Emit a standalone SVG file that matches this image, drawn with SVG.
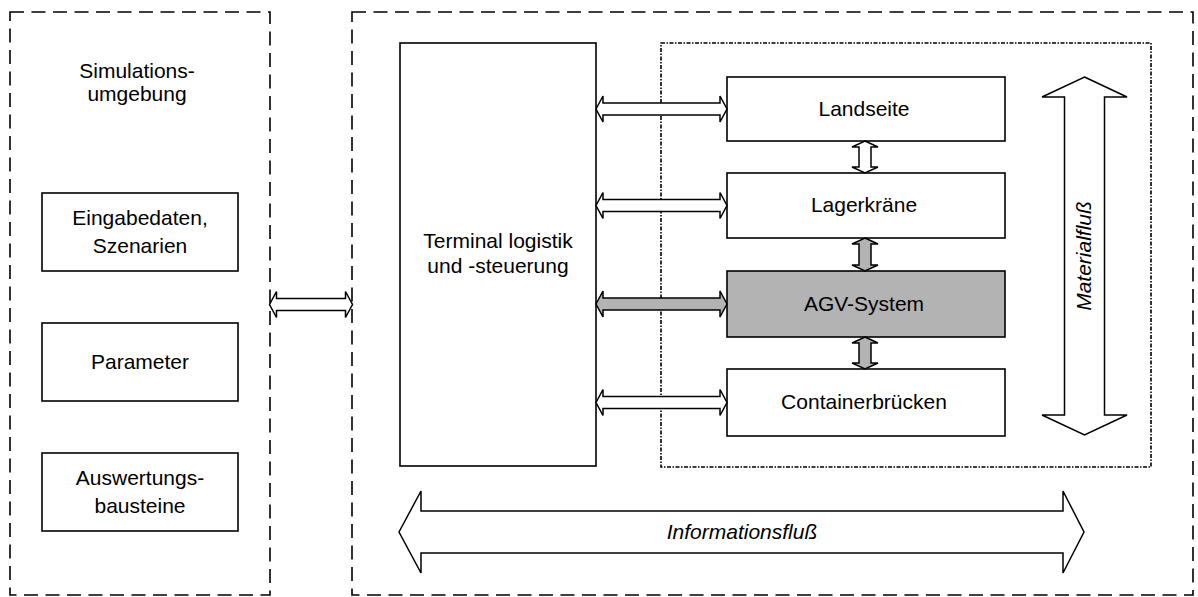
<svg xmlns="http://www.w3.org/2000/svg" width="1198" height="597" viewBox="0 0 1198 597">
<style>
.dash{fill:none;stroke:#000;stroke-width:1.6;stroke-dasharray:14 7.5}
.dot{fill:none;stroke:#000;stroke-width:1.6;stroke-dasharray:4 1.5 1.5 1.5}
.box{fill:#fff;stroke:#000;stroke-width:1.6}
.gbox{fill:#b3b3b3;stroke:#000;stroke-width:1.6}
.arr{fill:#fff;stroke:#000;stroke-width:1.5;stroke-linejoin:miter}
.garr{fill:#b3b3b3;stroke:#000;stroke-width:1.5;stroke-linejoin:miter}
text{font-family:"Liberation Sans",Arial,sans-serif;font-size:21px;fill:#000;text-anchor:middle}
.it{font-style:italic}
</style>
<rect width="1198" height="597" fill="#fff"/>
<g id="simulationsumgebung">
<rect class="dash" x="10" y="12" width="260" height="583"/>
<text x="137" y="78">Simulations-</text>
<text x="137" y="101">umgebung</text>
</g>
<g id="terminal-system">
<rect class="dash" x="352" y="12" width="841" height="583"/>
</g>
<g id="subsysteme">
<rect class="dot" x="661" y="43" width="490" height="424"/>
</g>
<g id="eingabedaten">
<rect class="box" x="42" y="193" width="196" height="78"/>
<text x="140" y="225">Eingabedaten,</text>
<text x="140" y="253">Szenarien</text>
</g>
<g id="parameter">
<rect class="box" x="42" y="323" width="196" height="78"/>
<text x="140" y="369">Parameter</text>
</g>
<g id="auswertung">
<rect class="box" x="42" y="453" width="196" height="78"/>
<text x="140" y="485">Auswertungs-</text>
<text x="140" y="513">bausteine</text>
</g>
<g id="terminal">
<rect class="box" x="400" y="43" width="196" height="423"/>
<text x="498" y="248">Terminal logistik</text>
<text x="498" y="273">und -steuerung</text>
</g>
<g id="landseite">
<rect class="box" x="727" y="77" width="278" height="64"/>
<text x="864" y="116">Landseite</text>
</g>
<g id="lagerkraene">
<rect class="box" x="727" y="173" width="278" height="65"/>
<text x="864" y="212">Lagerkräne</text>
</g>
<g id="agv">
<rect class="gbox" x="727" y="271" width="278" height="66"/>
<text x="864" y="311">AGV-System</text>
</g>
<g id="containerbruecken">
<rect class="box" x="727" y="369" width="278" height="67"/>
<text x="864" y="409">Containerbrücken</text>
</g>
<g id="connectors">
<polygon class="arr" points="269.5,304.5 276.5,291.5 276.5,298.5 345.5,298.5 345.5,291.5 352.5,304.5 345.5,317.5 345.5,310.5 276.5,310.5 276.5,317.5"/>
<polygon class="arr" points="596,109 603,96 603,103 720,103 720,96 727,109 720,122 720,115 603,115 603,122"/>
<polygon class="arr" points="596,205.5 603,192.5 603,199.5 720,199.5 720,192.5 727,205.5 720,218.5 720,211.5 603,211.5 603,218.5"/>
<polygon class="garr" points="596,304 603,291 603,298 720,298 720,291 727,304 720,317 720,310 603,310 603,317"/>
<polygon class="arr" points="596,402.5 603,389.5 603,396.5 720,396.5 720,389.5 727,402.5 720,415.5 720,408.5 603,408.5 603,415.5"/>
<polygon class="arr" points="865,141 878,147 871,147 871,167 878,167 865,173 852,167 859,167 859,147 852,147"/>
<polygon class="garr" points="865,238 878,244 871,244 871,265 878,265 865,271 852,265 859,265 859,244 852,244"/>
<polygon class="garr" points="865,337 878,343 871,343 871,363 878,363 865,369 852,363 859,363 859,343 852,343"/>
<polygon class="arr" points="1084.5,77 1127,97 1104.5,97 1104.5,415 1127,415 1084.5,435 1042,415 1064.5,415 1064.5,97 1042,97"/>
<polygon class="arr" points="399,532 421,491 421,511 1063,511 1063,491 1084,532 1063,573 1063,553 421,553 421,573"/>
<text class="it" x="742" y="539">Informationsfluß</text>
<text class="it" transform="translate(1091,256) rotate(-90)" x="0" y="0">Materialfluß</text>
</g>
</svg>
